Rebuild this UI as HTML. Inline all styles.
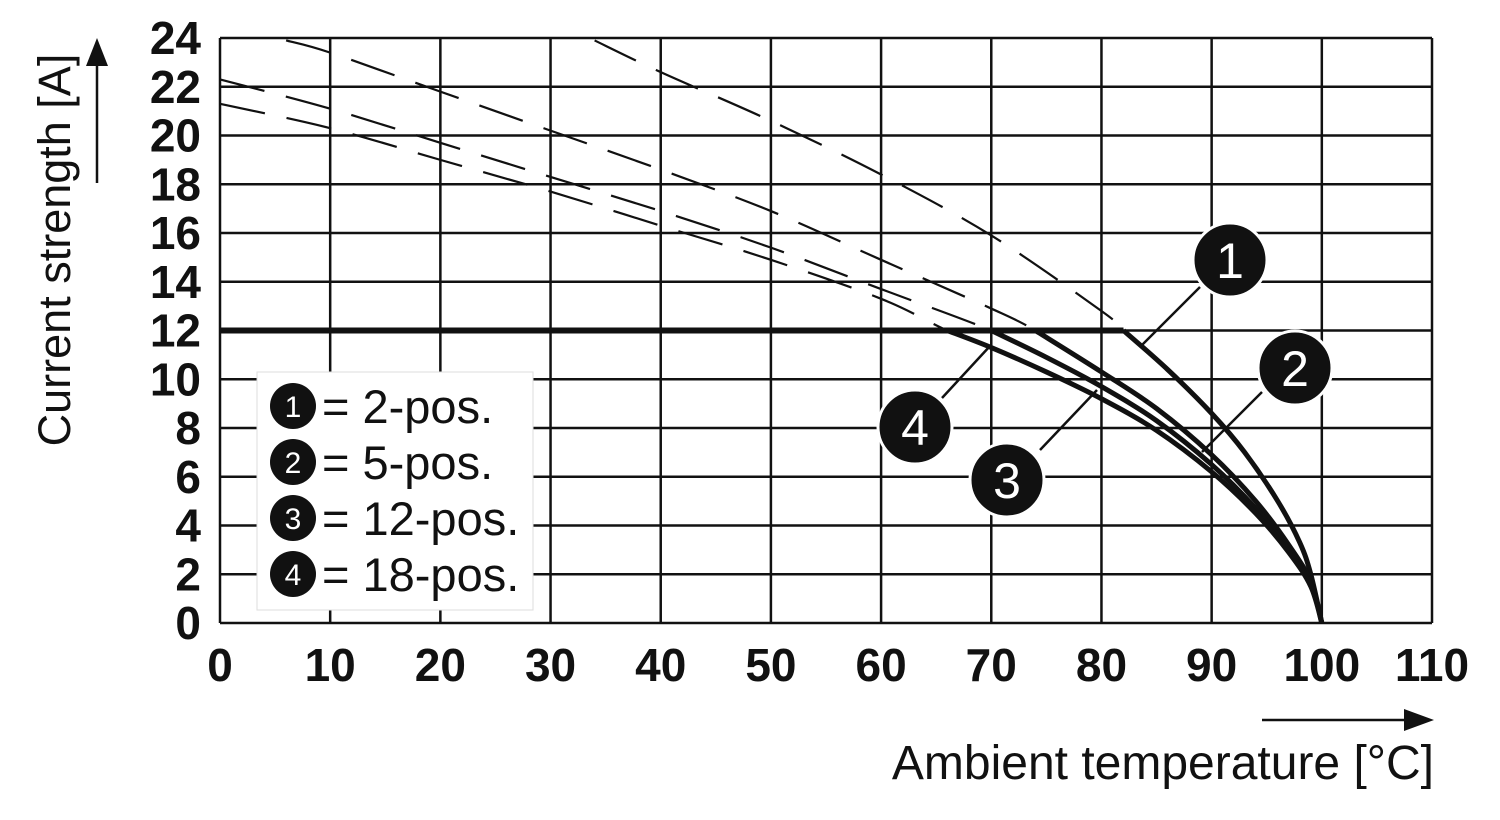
<!DOCTYPE html>
<html><head><meta charset="utf-8"><style>
body{margin:0;background:#fff}
svg{display:block;font-family:"Liberation Sans",sans-serif}
</style></head><body>
<svg id="chart" width="1500" height="820" viewBox="0 0 1500 820">
<defs><clipPath id="above12"><rect x="0" y="0" width="1500" height="330"/></clipPath></defs>
<g id="grid"></g>
<g id="ticks"></g>
<g id="curves"></g>
<g id="callouts"></g>
<text transform="translate(70,250) rotate(-90)" text-anchor="middle" font-size="45" fill="#111">Current strength [A]</text>
<line x1="97" y1="183" x2="97" y2="62" stroke="#111" stroke-width="2.5"/>
<polygon points="97,38 86,66 108,66" fill="#111"/>
<text x="1434" y="779" text-anchor="end" font-size="48" fill="#111">Ambient temperature [°C]</text>
<line x1="1262" y1="720" x2="1408" y2="720" stroke="#111" stroke-width="2.5"/>
<polygon points="1434,720 1404,709 1404,731" fill="#111"/>
<g>
<rect x="257" y="372" width="276" height="238" fill="#fff" stroke="#ddd" stroke-width="1"/>
<g id="legend-items"></g>
</g>
</svg>
<script>
const xTicks=[0,10,20,30,40,50,60,70,80,90,100,110];
const yTicks=[0,2,4,6,8,10,12,14,16,18,20,22,24];
const temps1=[34,40,50,60,70,80,82,86,90,93,96,98,99,100];
const curr1=[23.9,22.6,20.6,18.4,15.9,12.8,12,10.4,8.6,7.0,5.0,3.3,2.0,0];
const temps2=[6,10,20,30,40,50,60,70,74,80,85,90,94,97,99,100];
const curr2=[23.9,23.4,21.8,20.2,18.6,16.9,14.9,12.9,12,10.3,8.8,6.9,5.0,3.2,1.7,0];
const temps3=[0,10,20,30,40,50,60,70,75,80,85,90,94,97,99,100];
const curr3=[22.3,21.1,19.7,18.3,16.9,15.4,13.7,12,10.9,9.7,8.3,6.5,4.7,3.0,1.6,0];
const temps4=[0,10,20,30,40,50,60,66,70,75,80,85,90,94,97,99,100];
const curr4=[21.3,20.3,19.0,17.7,16.3,14.9,13.3,12,11.3,10.3,9.2,7.9,6.2,4.5,2.9,1.5,0];
const limit=12;
const legendLabels=["= 2-pos.","= 5-pos.","= 12-pos.","= 18-pos."];
const NS="http://www.w3.org/2000/svg";
const X=t=>220+t*(1432-220)/110;
const Y=v=>623-v*(623-38)/24;
function mk(tag,attrs,parent){const e=document.createElementNS(NS,tag);for(const k in attrs)e.setAttribute(k,attrs[k]);parent.appendChild(e);return e;}
function smooth(pts){let d='M'+pts[0][0]+','+pts[0][1];for(let i=0;i<pts.length-1;i++){const p0=pts[i-1]||pts[i],p1=pts[i],p2=pts[i+1],p3=pts[i+2]||p2;
d+=' C'+(p1[0]+(p2[0]-p0[0])/6)+','+(p1[1]+(p2[1]-p0[1])/6)+' '+(p2[0]-(p3[0]-p1[0])/6)+','+(p2[1]-(p3[1]-p1[1])/6)+' '+p2[0]+','+p2[1];}return d;}
const grid=document.getElementById('grid'),ticks=document.getElementById('ticks');
xTicks.forEach(t=>{const l=mk('line',{x1:X(t),x2:X(t),y1:Y(24),y2:Y(0),stroke:'#111','stroke-width':2.5},grid);


const tx=mk('text',{x:X(t),y:681,'text-anchor':'middle','font-size':46,'font-weight':'bold',fill:'#111'},ticks);tx.textContent=t;

});
yTicks.forEach(v=>{const l=mk('line',{x1:X(0),x2:X(110),y1:Y(v),y2:Y(v),stroke:'#111','stroke-width':2.5},grid);


const tx=mk('text',{x:201,y:Y(v)+16,'text-anchor':'end','font-size':46,'font-weight':'bold',fill:'#111'},ticks);tx.textContent=v;

});
const curves=document.getElementById('curves');
const series=[[temps1,curr1],[temps2,curr2],[temps3,curr3],[temps4,curr4]];
series.forEach(([ts,cs],i)=>{
 const full=ts.map((t,j)=>[X(t),Y(cs[j])]);
 const d=mk('path',{d:smooth(full),fill:'none',stroke:'#111','stroke-width':2.2,'stroke-dasharray':'46,22','clip-path':'url(#above12)'},curves);
 
 
 const low=[];ts.forEach((t,j)=>{if(cs[j]<=limit)low.push([X(t),Y(cs[j])]);});
 const s=mk('path',{d:smooth(low),fill:'none',stroke:'#111','stroke-width':5,'stroke-linejoin':'round'},curves);
 
 
});
const hl=mk('line',{x1:X(0),x2:X(82),y1:Y(limit),y2:Y(limit),stroke:'#111','stroke-width':6},curves);


const co=document.getElementById('callouts');
const calls=[[1230,260,1200,287,1140,347],[1295,368,1262,392,1202,452],[1007,480,1040,450,1097,390],[915,427,942,398,990,346]];
calls.forEach((c,i)=>{
 const l=mk('line',{x1:c[2],y1:c[3],x2:c[4],y2:c[5],stroke:'#111','stroke-width':2.5},co);
 
 
 const ci=mk('circle',{cx:c[0],cy:c[1],r:37,fill:'#111',stroke:'#fff','stroke-width':3},co);
 
 
 const t=mk('text',{x:c[0],y:c[1]+18,'text-anchor':'middle','font-size':50,fill:'#fff'},co);t.textContent=i+1;
 
 
});
const li=document.getElementById('legend-items');
legendLabels.forEach((lab,i)=>{
 const cy=406+i*56;
 const ci=mk('circle',{cx:293,cy:cy,r:23,fill:'#111'},li);
 
 
 const n=mk('text',{x:293,y:cy+11,'text-anchor':'middle','font-size':30,fill:'#fff'},li);n.textContent=i+1;
 
 
 const t=mk('text',{x:322,y:cy+17,'font-size':47,fill:'#111'},li);t.textContent=lab;
 
 
});
</script>
</body></html>
